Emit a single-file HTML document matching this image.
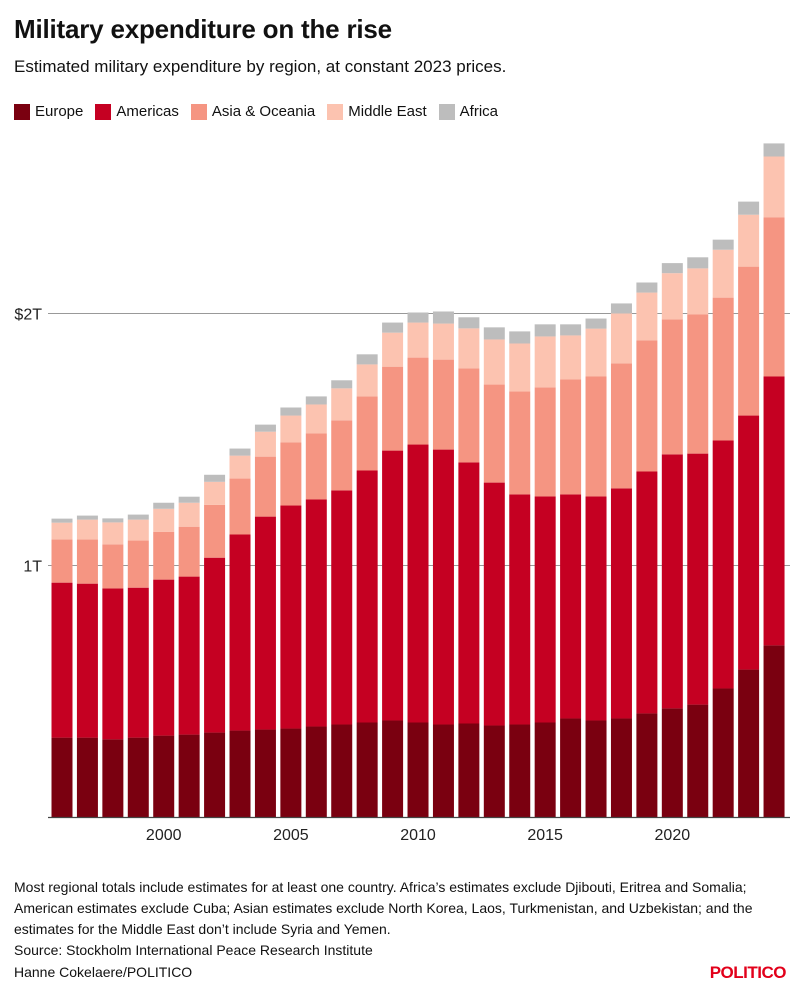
<!DOCTYPE html>
<html><head><meta charset="utf-8"><style>
body{margin:0;width:800px;height:1000px;background:#fff;font-family:"Liberation Sans",sans-serif;color:#111;position:relative;overflow:hidden}
.t{position:absolute;white-space:nowrap}
</style></head><body>
<div class="t" style="left:14px;top:14px;font-size:26px;font-weight:bold;letter-spacing:-0.2px">Military expenditure on the rise</div>
<div class="t" style="left:14px;top:57px;font-size:17px">Estimated military expenditure by region, at constant 2023 prices.</div>
<div class="t" style="left:14px;top:103px;font-size:15px;display:flex;gap:12px;align-items:center">
<span style="display:flex;align-items:center;gap:5px"><i style="width:16px;height:16px;background:#7a0010;display:inline-block"></i>Europe</span>
<span style="display:flex;align-items:center;gap:5px"><i style="width:16px;height:16px;background:#c50022;display:inline-block"></i>Americas</span>
<span style="display:flex;align-items:center;gap:5px"><i style="width:16px;height:16px;background:#f59582;display:inline-block"></i>Asia &amp; Oceania</span>
<span style="display:flex;align-items:center;gap:5px"><i style="width:16px;height:16px;background:#fcc3b0;display:inline-block"></i>Middle East</span>
<span style="display:flex;align-items:center;gap:5px"><i style="width:16px;height:16px;background:#bdbdbd;display:inline-block"></i>Africa</span>
</div>
<svg id="chart" width="800" height="860" style="position:absolute;left:0;top:0" font-family="Liberation Sans, sans-serif"></svg>
<div class="t" style="left:14px;top:877px;font-size:14px;line-height:21px;white-space:normal;width:780px">Most regional totals include estimates for at least one country. Africa’s estimates exclude Djibouti, Eritrea and Somalia; American estimates exclude Cuba; Asian estimates exclude North Korea, Laos, Turkmenistan, and Uzbekistan; and the estimates for the Middle East don’t include Syria and Yemen.</div>
<div class="t" style="left:14px;top:942px;font-size:14px">Source: Stockholm International Peace Research Institute</div>
<div class="t" style="left:14px;top:964px;font-size:14px">Hanne Cokelaere/POLITICO</div>
<div class="t" style="right:14px;top:963px;font-size:17px;font-weight:bold;color:#e2001a;letter-spacing:-0.5px">POLITICO</div>
<script>
const years=[1996,1997,1998,1999,2000,2001,2002,2003,2004,2005,2006,2007,2008,2009,2010,2011,2012,2013,2014,2015,2016,2017,2018,2019,2020,2021,2022,2023,2024];
const europe=[317,317,310,317,325,329,337,345,349,353,361,369,377,385,377,369,373,365,369,377,393,385,393,413,433,448,512,587,683];
const americas=[615,611,599,595,619,627,694,778,845,885,901,929,1000,1071,1103,1091,1036,964,913,897,889,889,913,960,1008,996,984,1008,1067];
const asia=[171,175,175,187,190,198,210,222,238,250,262,278,294,333,345,357,373,389,409,433,456,476,496,520,536,552,567,591,631];
const middleEast=[67,79,87,83,91,95,91,91,99,107,115,127,127,135,139,143,159,179,190,202,175,190,198,190,183,183,190,206,242];
const africa=[16,16,16,20,24,24,28,28,28,32,32,32,40,40,40,48,44,48,48,48,44,40,40,40,40,44,40,52,52];
const yTicks=[1000,2000];
const yTickLabels=["1T","$2T"];
const xTicks=[2000,2005,2010,2015,2020];
const series=[["europe",europe,"#7a0010"],["americas",americas,"#c50022"],["asia-oceania",asia,"#f59582"],["middle-east",middleEast,"#fcc3b0"],["africa",africa,"#bdbdbd"]];
const svg=document.getElementById('chart');const NS="http://www.w3.org/2000/svg";
const y0=817.5,pxPer=0.252;
const y=v=>y0-v*pxPer;
const step=25.43,bw=21;
const xc=yr=>62+(yr-years[0])*step;
function mk(t,a){const e=document.createElementNS(NS,t);for(const k in a)e.setAttribute(k,a[k]);svg.appendChild(e);return e;}
yTicks.forEach((v,i)=>{
 const l=mk('line',{x1:48,x2:790,y1:y(v),y2:y(v),stroke:'#999','stroke-width':1});
 
 
 const t=mk('text',{x:42,y:y(v)+6,'text-anchor':'end','font-size':16,fill:'#222'});t.textContent=yTickLabels[i];
 
 
});
years.forEach((yr,i)=>{
 let acc=0;
 series.forEach(s=>{
  const v=s[1][i];
  const r=mk('rect',{x:xc(yr)-bw/2,y:y(acc+v),width:bw,height:v*pxPer,fill:s[2]});
  
  
  acc+=v;
 });
});
const b=mk('line',{x1:48,x2:790,y1:y0,y2:y0,stroke:'#444','stroke-width':1.2});


xTicks.forEach(yr=>{
 const t=mk('text',{x:xc(yr),y:840,'text-anchor':'middle','font-size':16,fill:'#222'});t.textContent=yr;
 
 
});
</script>
</body></html>
